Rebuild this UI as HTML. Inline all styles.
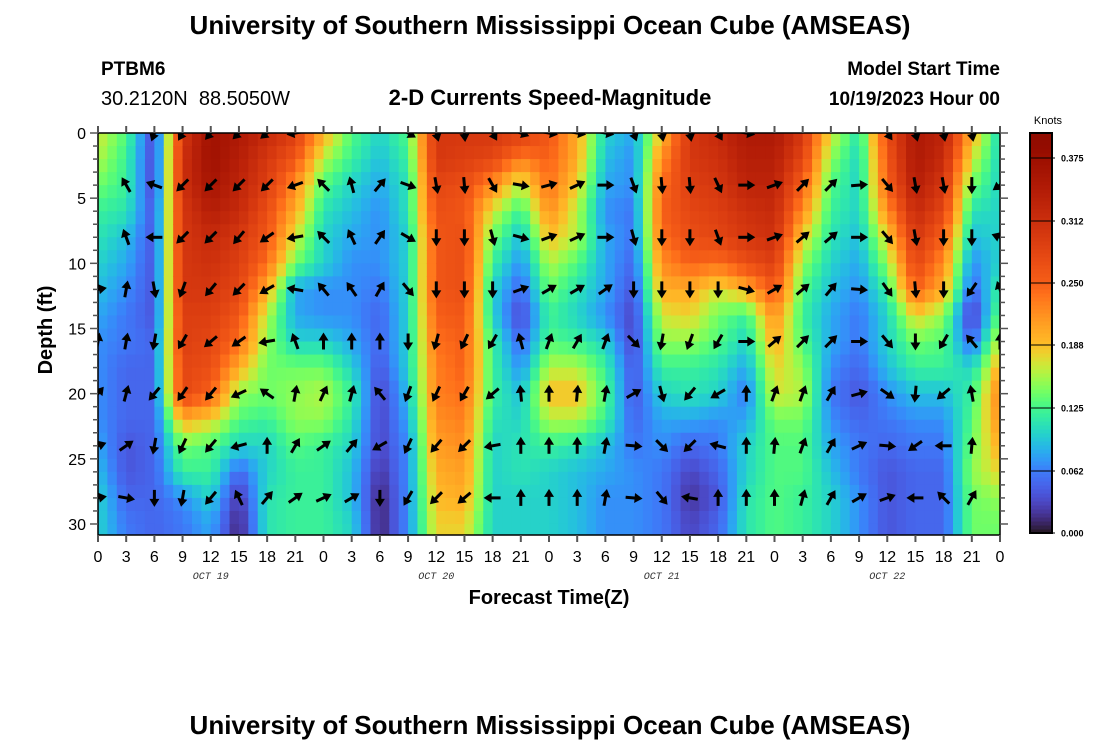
<!DOCTYPE html>
<html><head><meta charset="utf-8">
<style>
html,body{margin:0;padding:0;background:#fff;}
body{width:1100px;height:750px;overflow:hidden;font-family:"Liberation Sans",sans-serif;}
svg text{font-family:"Liberation Sans",sans-serif;}
svg text.mono{font-family:"Liberation Mono",monospace;}
</style></head>
<body>
<svg id="chart" width="1100" height="750" viewBox="0 0 1100 750" xmlns="http://www.w3.org/2000/svg">
  <text x="550" y="34" text-anchor="middle" font-size="26" font-weight="bold">University of Southern Mississippi Ocean Cube (AMSEAS)</text>
  <text x="101" y="75" font-size="19" font-weight="bold">PTBM6</text>
  <text x="101" y="105" font-size="20">30.2120N&#160;&#160;88.5050W</text>
  <text x="550" y="105" text-anchor="middle" font-size="22" font-weight="bold">2-D Currents Speed-Magnitude</text>
  <text x="1000" y="75" text-anchor="end" font-size="19" font-weight="bold">Model Start Time</text>
  <text x="1000" y="105" text-anchor="end" font-size="19" font-weight="bold">10/19/2023 Hour 00</text>
  <text transform="translate(52,330) rotate(-90)" text-anchor="middle" font-size="20" font-weight="bold">Depth (ft)</text>
  <text x="549" y="604" text-anchor="middle" font-size="20" font-weight="bold">Forecast Time(Z)</text>
  <text x="550" y="734" text-anchor="middle" font-size="26" font-weight="bold">University of Southern Mississippi Ocean Cube (AMSEAS)</text>
  <defs><clipPath id="plotclip"><rect x="98" y="133" width="902" height="402"/></clipPath></defs>
  <g id="heat" clip-path="url(#plotclip)"></g>
  <g id="arrows" clip-path="url(#plotclip)"></g>
  <g id="axes"></g>
  <g id="cbar"></g>
</svg>
<script>
// ---- data ----
const hours = [0,3,6,9,12,15,18,21,24,27,30,33,36,39,42,45,48,51,54,57,60,63,66,69,72,75,78,81,84,87,90,93,96];
const depths = [0,2,4,6,8,10,12,14,16,18,20,22,24,26,28,30];
// speed (knots) per hour column, listed by depth
const speed = [
[0.17,0.16,0.14,0.12,0.11,0.10,0.09,0.08,0.07,0.07,0.07,0.07,0.08,0.09,0.10,0.10],
[0.13,0.12,0.12,0.11,0.09,0.08,0.07,0.06,0.06,0.05,0.05,0.05,0.04,0.04,0.05,0.06],
[0.03,0.03,0.03,0.04,0.04,0.04,0.04,0.04,0.05,0.05,0.05,0.05,0.05,0.05,0.05,0.05],
[0.30,0.31,0.31,0.30,0.30,0.30,0.30,0.29,0.29,0.28,0.28,0.20,0.14,0.12,0.07,0.06],
[0.37,0.37,0.36,0.34,0.32,0.31,0.30,0.29,0.28,0.27,0.25,0.18,0.13,0.12,0.10,0.08],
[0.35,0.34,0.33,0.32,0.30,0.29,0.28,0.26,0.24,0.20,0.15,0.13,0.10,0.05,0.02,0.01],
[0.32,0.30,0.29,0.27,0.26,0.24,0.20,0.16,0.15,0.14,0.14,0.12,0.10,0.10,0.11,0.11],
[0.29,0.26,0.22,0.20,0.17,0.14,0.08,0.08,0.10,0.14,0.15,0.15,0.13,0.12,0.12,0.12],
[0.20,0.16,0.13,0.11,0.10,0.10,0.07,0.07,0.10,0.14,0.16,0.15,0.12,0.12,0.12,0.12],
[0.13,0.12,0.10,0.09,0.08,0.07,0.07,0.07,0.08,0.10,0.12,0.11,0.10,0.09,0.09,0.10],
[0.10,0.09,0.08,0.07,0.07,0.07,0.06,0.05,0.05,0.04,0.03,0.03,0.03,0.02,0.01,0.01],
[0.13,0.12,0.11,0.11,0.10,0.10,0.10,0.10,0.10,0.10,0.09,0.08,0.07,0.07,0.07,0.07],
[0.30,0.30,0.28,0.27,0.26,0.26,0.26,0.25,0.24,0.23,0.23,0.22,0.21,0.20,0.19,0.18],
[0.30,0.29,0.27,0.26,0.27,0.27,0.27,0.26,0.25,0.25,0.24,0.23,0.22,0.21,0.20,0.18],
[0.30,0.28,0.22,0.17,0.14,0.12,0.10,0.10,0.12,0.12,0.12,0.11,0.10,0.10,0.10,0.10],
[0.29,0.23,0.16,0.12,0.09,0.07,0.05,0.03,0.05,0.07,0.09,0.10,0.11,0.11,0.10,0.10],
[0.26,0.25,0.24,0.22,0.19,0.16,0.14,0.12,0.13,0.16,0.19,0.16,0.12,0.10,0.10,0.10],
[0.20,0.20,0.18,0.16,0.16,0.13,0.11,0.10,0.12,0.16,0.19,0.16,0.11,0.09,0.09,0.09],
[0.10,0.09,0.08,0.07,0.08,0.08,0.08,0.07,0.10,0.12,0.13,0.12,0.09,0.08,0.07,0.07],
[0.08,0.07,0.07,0.06,0.06,0.05,0.04,0.03,0.03,0.04,0.04,0.05,0.06,0.07,0.07,0.07],
[0.19,0.22,0.24,0.25,0.24,0.22,0.20,0.17,0.15,0.12,0.10,0.08,0.07,0.06,0.06,0.06],
[0.30,0.30,0.29,0.28,0.27,0.25,0.20,0.18,0.15,0.12,0.11,0.08,0.05,0.03,0.02,0.03],
[0.32,0.31,0.30,0.29,0.28,0.24,0.17,0.14,0.13,0.11,0.10,0.07,0.06,0.05,0.04,0.05],
[0.35,0.34,0.33,0.31,0.30,0.27,0.20,0.12,0.10,0.08,0.06,0.08,0.10,0.10,0.11,0.11],
[0.35,0.34,0.33,0.32,0.31,0.29,0.26,0.22,0.20,0.18,0.17,0.14,0.13,0.13,0.13,0.13],
[0.30,0.28,0.25,0.22,0.18,0.15,0.13,0.12,0.13,0.15,0.16,0.14,0.13,0.13,0.12,0.12],
[0.17,0.15,0.13,0.12,0.11,0.10,0.09,0.08,0.08,0.07,0.06,0.07,0.08,0.09,0.10,0.10],
[0.11,0.10,0.10,0.10,0.09,0.08,0.07,0.06,0.06,0.05,0.04,0.05,0.06,0.06,0.07,0.07],
[0.27,0.26,0.25,0.22,0.18,0.15,0.12,0.10,0.10,0.09,0.07,0.06,0.05,0.04,0.04,0.04],
[0.35,0.35,0.34,0.32,0.30,0.28,0.25,0.18,0.14,0.12,0.09,0.07,0.06,0.05,0.05,0.05],
[0.33,0.32,0.30,0.28,0.25,0.22,0.20,0.15,0.13,0.12,0.09,0.07,0.06,0.05,0.05,0.05],
[0.20,0.17,0.14,0.11,0.09,0.07,0.05,0.02,0.05,0.10,0.12,0.13,0.14,0.15,0.14,0.14],
[0.10,0.10,0.10,0.10,0.10,0.10,0.12,0.14,0.17,0.20,0.23,0.22,0.20,0.18,0.15,0.14]
];
const arrowDepths = [0,4,8,12,16,20,24,28];
// direction (deg clockwise from north) per arrow depth, per hour column; null = no arrow
const dir0  = [null,null,200,210,220,225,230,260,null,null,null,120,165,175,150,110,100,100,100,160,170,170,150,100,null,null,null,null,145,165,170,170,null];
const dir4  = [null,330,290,225,225,225,225,250,315,345,40,110,170,175,150,100,75,65,90,160,175,175,155,90,70,45,45,85,140,170,170,180,235];
const dir8  = [null,340,270,225,225,220,235,260,315,335,35,120,180,180,165,105,70,65,90,165,180,180,160,90,70,50,50,90,140,170,180,180,290];
const dir12 = [80,10,170,200,220,225,240,280,320,325,30,140,180,180,180,70,60,60,55,180,180,180,180,105,60,50,40,95,145,175,180,215,340];
const dir16 = [10,10,190,210,230,235,260,340,0,0,0,180,195,205,210,345,20,30,20,135,190,200,210,90,50,45,45,90,140,180,210,320,0];
const dir20 = [40,15,220,215,220,245,305,10,25,15,320,200,205,210,230,355,0,5,10,60,165,220,240,0,20,20,30,75,125,185,230,350,null];
const dir24 = [70,55,190,205,220,255,0,30,55,40,240,205,220,225,260,0,0,0,10,95,135,225,285,0,5,20,30,65,95,235,270,5,null];
const dir28 = [80,100,180,190,220,335,40,55,65,60,180,210,225,230,270,0,0,0,10,95,140,280,0,0,0,15,30,60,70,270,315,30,null];
const xTicks = ["0","3","6","9","12","15","18","21","0","3","6","9","12","15","18","21","0","3","6","9","12","15","18","21","0","3","6","9","12","15","18","21","0"];
const dayLabels = ["OCT 19","OCT 20","OCT 21","OCT 22"];
const dayHours = [12,36,60,84];
const yTicks = [0,5,10,15,20,25,30];
const cbTicks = [0,0.062,0.125,0.188,0.25,0.312,0.375];
const cbTickLabels = ["0.000","0.062","0.125","0.188","0.250","0.312","0.375"];

// ---- scales ----
const X0=98, X1=1000, Y0=133, PXFT=13.033, YB=535;
const xs = h => X0 + (h/96)*(X1-X0);
const ys = d => Y0 + d*PXFT;
const VMAX=0.4;
function turbo(t){
  t=Math.max(0,Math.min(1,t));
  const r=34.61+t*(1172.33-t*(10793.56-t*(33300.12-t*(38394.49-t*14825.05))));
  const g=23.31+t*(557.33+t*(1225.33-t*(3574.96-t*(1073.77+t*707.56))));
  const b=27.2+t*(3211.1-t*(15327.97-t*(27814-t*(22569.18-t*6838.66))));
  const c=v=>Math.max(0,Math.min(255,Math.round(v)));
  return `rgb(${c(r)},${c(g)},${c(b)})`;
}
// remap value fraction to colormap position (matches the reference colorbar)
const remapF=[0,0.155,0.31,0.47,0.625,0.94,1];
const remapT=[0,0.15,0.38,0.66,0.80,0.95,1];
function cmap(v){
  const f=Math.max(0,Math.min(1,v/VMAX));
  for(let i=0;i<remapF.length-1;i++){
    if(f<=remapF[i+1]){const u=(f-remapF[i])/(remapF[i+1]-remapF[i]);return turbo(remapT[i]+u*(remapT[i+1]-remapT[i]));}
  }
  return turbo(1);
}
const NS="http://www.w3.org/2000/svg";
function mk(tag,attrs,parent){const e=document.createElementNS(NS,tag);for(const k in attrs)e.setAttribute(k,attrs[k]);parent.appendChild(e);return e;}

// ---- heatmap (bilinear sampling of the grid, 1h x 1ft cells) ----
const heat=document.getElementById('heat');
function sample(h,d){
  let i=Math.min(hours.length-2,Math.max(0,Math.floor(h/3)));
  let fi=Math.max(0,Math.min(1,(h-hours[i])/3));
  let j=Math.min(depths.length-2,Math.max(0,Math.floor(d/2)));
  let fj=Math.max(0,Math.min(1,(d-depths[j])/2));
  const a=speed[i][j],b=speed[i+1][j],c=speed[i][j+1],e=speed[i+1][j+1];
  return (a*(1-fi)+b*fi)*(1-fj)+(c*(1-fi)+e*fi)*fj;
}
for(let h=0;h<96;h++){
  for(let d=0;d<31;d++){
    const v=sample(h+0.5,d+0.5);
    const r=mk('rect',{x:xs(h).toFixed(2),y:ys(d).toFixed(2),width:(xs(h+1)-xs(h)+0.6).toFixed(2),height:(PXFT+0.6).toFixed(2),fill:cmap(v)},heat);
    
    
  }
}

// ---- arrows ----
const ag=document.getElementById('arrows');
const dirRows=[dir0,dir4,dir8,dir12,dir16,dir20,dir24,dir28];
dirRows.forEach((row,ri)=>{
  row.forEach((ang,ci)=>{
    if(ang===null)return;
    const cx=xs(hours[ci]), cy=ys(arrowDepths[ri]);
    const g=mk('g',{transform:`translate(${cx.toFixed(1)},${cy.toFixed(1)}) rotate(${ang})`},ag);
    
    
    mk('line',{x1:0,y1:8,x2:0,y2:-3,stroke:'#000','stroke-width':3},g);
    mk('polygon',{points:'0,-9 -5,-1 5,-1',fill:'#000'},g);
  });
});

// ---- axes ----
const ax=document.getElementById('axes');
const frame=mk('rect',{x:X0,y:Y0,width:X1-X0,height:YB-Y0,fill:'none',stroke:'#000','stroke-width':1.5},ax);


hours.forEach((h,i)=>{
  const x=xs(h);
  mk('line',{x1:x,y1:YB,x2:x,y2:YB+7,stroke:'#555','stroke-width':2},ax);
  mk('line',{x1:x,y1:Y0,x2:x,y2:Y0-7,stroke:'#555','stroke-width':2},ax);
  const t=mk('text',{x:x,y:562,'text-anchor':'middle','font-size':16},ax);
  t.textContent=xTicks[i];
  
  
});
dayLabels.forEach((lab,i)=>{
  const t=mk('text',{x:xs(dayHours[i]),y:579,'text-anchor':'middle','font-size':10,'font-style':'italic',fill:'#333',class:'mono'},ax);
  t.textContent=lab;
  
  
});
for(let d=0;d<=30;d++){
  const y=ys(d), len=(d%5===0)?8:5;
  mk('line',{x1:X0-len,y1:y,x2:X0,y2:y,stroke:'#555','stroke-width':1.5},ax);
  mk('line',{x1:X1,y1:y,x2:X1+len,y2:y,stroke:'#555','stroke-width':1.5},ax);
}
yTicks.forEach(d=>{
  const t=mk('text',{x:86,y:ys(d)+6,'text-anchor':'end','font-size':16},ax);
  t.textContent=String(d);
  
  
});

// ---- colorbar ----
const cb=document.getElementById('cbar');
const CB_X=1030,CB_W=22,CB_TOP=133,CB_BOT=533;
const cby=v=>CB_BOT-(v/VMAX)*(CB_BOT-CB_TOP);
for(let k=0;k<100;k++){
  const v0=k/100*VMAX, v1=(k+1)/100*VMAX;
  mk('rect',{x:CB_X,y:cby(v1),width:CB_W,height:(cby(v0)-cby(v1)+0.5),fill:cmap((k+0.5)/100*VMAX)},cb);
}
mk('rect',{x:CB_X,y:CB_TOP,width:CB_W,height:CB_BOT-CB_TOP,fill:'none',stroke:'#000','stroke-width':2},cb);
cbTicks.forEach((v,i)=>{
  const y=cby(v);
  mk('line',{x1:CB_X,y1:y,x2:CB_X+CB_W+3,y2:y,stroke:'#000','stroke-width':1},cb);
  const t=mk('text',{x:CB_X+CB_W+9,y:y+3.5,'font-size':9,'font-weight':'bold'},cb);
  t.textContent=cbTickLabels[i];
  
  
});
const kt=mk('text',{x:1048,y:124,'text-anchor':'middle','font-size':11},cb);
kt.textContent='Knots';


</script>
</body></html>
